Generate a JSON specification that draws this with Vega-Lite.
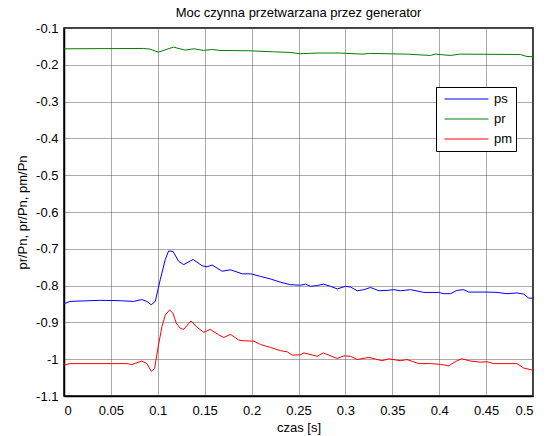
{
  "$schema": "https://vega.github.io/schema/vega-lite/v6.json",
  "width": 469,
  "height": 368,
  "autosize": {"type": "none"},
  "padding": {"left": 64, "top": 28, "right": 18, "bottom": 40},
  "background": "white",
  "title": {
    "text": "Moc czynna przetwarzana przez generator",
    "font": "Liberation Sans",
    "fontSize": 13,
    "fontWeight": "normal",
    "color": "black",
    "offset": 2
  },
  "data": {
    "values": [
      {"t": 0, "s": "ps", "v": -0.849}, {"t": 0.0064, "s": "ps", "v": -0.843}, {"t": 0.0385, "s": "ps", "v": -0.84},
      {"t": 0.0599, "s": "ps", "v": -0.841}, {"t": 0.0741, "s": "ps", "v": -0.843}, {"t": 0.083, "s": "ps", "v": -0.838},
      {"t": 0.0884, "s": "ps", "v": -0.843}, {"t": 0.093, "s": "ps", "v": -0.852}, {"t": 0.0973, "s": "ps", "v": -0.843},
      {"t": 0.1026, "s": "ps", "v": -0.784}, {"t": 0.108, "s": "ps", "v": -0.729}, {"t": 0.1115, "s": "ps", "v": -0.706},
      {"t": 0.1162, "s": "ps", "v": -0.707}, {"t": 0.1222, "s": "ps", "v": -0.734}, {"t": 0.1276, "s": "ps", "v": -0.743},
      {"t": 0.1376, "s": "ps", "v": -0.729}, {"t": 0.1472, "s": "ps", "v": -0.746}, {"t": 0.1525, "s": "ps", "v": -0.749},
      {"t": 0.1579, "s": "ps", "v": -0.744}, {"t": 0.1686, "s": "ps", "v": -0.761}, {"t": 0.1775, "s": "ps", "v": -0.757},
      {"t": 0.19, "s": "ps", "v": -0.768}, {"t": 0.199, "s": "ps", "v": -0.768}, {"t": 0.2096, "s": "ps", "v": -0.775},
      {"t": 0.2202, "s": "ps", "v": -0.782}, {"t": 0.231, "s": "ps", "v": -0.791}, {"t": 0.2415, "s": "ps", "v": -0.7975},
      {"t": 0.252, "s": "ps", "v": -0.799}, {"t": 0.2575, "s": "ps", "v": -0.796}, {"t": 0.2629, "s": "ps", "v": -0.802},
      {"t": 0.27, "s": "ps", "v": -0.8}, {"t": 0.2764, "s": "ps", "v": -0.796}, {"t": 0.2842, "s": "ps", "v": -0.802},
      {"t": 0.2913, "s": "ps", "v": -0.809}, {"t": 0.3001, "s": "ps", "v": -0.802}, {"t": 0.3055, "s": "ps", "v": -0.804},
      {"t": 0.3126, "s": "ps", "v": -0.814}, {"t": 0.3197, "s": "ps", "v": -0.811}, {"t": 0.3268, "s": "ps", "v": -0.805},
      {"t": 0.3357, "s": "ps", "v": -0.814}, {"t": 0.3445, "s": "ps", "v": -0.813}, {"t": 0.3516, "s": "ps", "v": -0.811},
      {"t": 0.3587, "s": "ps", "v": -0.814}, {"t": 0.3694, "s": "ps", "v": -0.811}, {"t": 0.3836, "s": "ps", "v": -0.8185},
      {"t": 0.3996, "s": "ps", "v": -0.8185}, {"t": 0.4049, "s": "ps", "v": -0.822}, {"t": 0.412, "s": "ps", "v": -0.822},
      {"t": 0.4191, "s": "ps", "v": -0.813}, {"t": 0.4262, "s": "ps", "v": -0.811}, {"t": 0.4315, "s": "ps", "v": -0.8176},
      {"t": 0.451, "s": "ps", "v": -0.8176}, {"t": 0.4617, "s": "ps", "v": -0.8185}, {"t": 0.4723, "s": "ps", "v": -0.822},
      {"t": 0.483, "s": "ps", "v": -0.82}, {"t": 0.4901, "s": "ps", "v": -0.823}, {"t": 0.4955, "s": "ps", "v": -0.834},
      {"t": 0.5, "s": "ps", "v": -0.834},

      {"t": 0, "s": "pr", "v": -0.1565}, {"t": 0.0846, "s": "pr", "v": -0.1556}, {"t": 0.0917, "s": "pr", "v": -0.1574},
      {"t": 0.1006, "s": "pr", "v": -0.1656}, {"t": 0.1166, "s": "pr", "v": -0.152}, {"t": 0.1291, "s": "pr", "v": -0.16},
      {"t": 0.1387, "s": "pr", "v": -0.1565}, {"t": 0.1486, "s": "pr", "v": -0.161}, {"t": 0.1575, "s": "pr", "v": -0.1583},
      {"t": 0.1664, "s": "pr", "v": -0.161}, {"t": 0.1984, "s": "pr", "v": -0.162}, {"t": 0.2233, "s": "pr", "v": -0.1647},
      {"t": 0.2411, "s": "pr", "v": -0.1665}, {"t": 0.2518, "s": "pr", "v": -0.17}, {"t": 0.2713, "s": "pr", "v": -0.168},
      {"t": 0.2945, "s": "pr", "v": -0.168}, {"t": 0.3176, "s": "pr", "v": -0.171}, {"t": 0.3265, "s": "pr", "v": -0.169},
      {"t": 0.3656, "s": "pr", "v": -0.171}, {"t": 0.3905, "s": "pr", "v": -0.1746}, {"t": 0.3958, "s": "pr", "v": -0.171},
      {"t": 0.4118, "s": "pr", "v": -0.1746}, {"t": 0.4225, "s": "pr", "v": -0.171}, {"t": 0.4865, "s": "pr", "v": -0.172},
      {"t": 0.4936, "s": "pr", "v": -0.1774}, {"t": 0.5, "s": "pr", "v": -0.178},

      {"t": 0, "s": "pm", "v": -1.016}, {"t": 0.0064, "s": "pm", "v": -1.012}, {"t": 0.067, "s": "pm", "v": -1.012},
      {"t": 0.0723, "s": "pm", "v": -1.0145}, {"t": 0.083, "s": "pm", "v": -1.005}, {"t": 0.0884, "s": "pm", "v": -1.012},
      {"t": 0.093, "s": "pm", "v": -1.033}, {"t": 0.0966, "s": "pm", "v": -1.025}, {"t": 0.0998, "s": "pm", "v": -0.975},
      {"t": 0.1044, "s": "pm", "v": -0.9115}, {"t": 0.108, "s": "pm", "v": -0.88}, {"t": 0.1126, "s": "pm", "v": -0.866},
      {"t": 0.1162, "s": "pm", "v": -0.875}, {"t": 0.1197, "s": "pm", "v": -0.902}, {"t": 0.124, "s": "pm", "v": -0.916},
      {"t": 0.1276, "s": "pm", "v": -0.919}, {"t": 0.1354, "s": "pm", "v": -0.896}, {"t": 0.1418, "s": "pm", "v": -0.913},
      {"t": 0.149, "s": "pm", "v": -0.927}, {"t": 0.156, "s": "pm", "v": -0.919}, {"t": 0.165, "s": "pm", "v": -0.934},
      {"t": 0.1703, "s": "pm", "v": -0.941}, {"t": 0.1775, "s": "pm", "v": -0.9325}, {"t": 0.1864, "s": "pm", "v": -0.948},
      {"t": 0.1918, "s": "pm", "v": -0.95}, {"t": 0.2025, "s": "pm", "v": -0.951}, {"t": 0.2096, "s": "pm", "v": -0.96},
      {"t": 0.2202, "s": "pm", "v": -0.968}, {"t": 0.231, "s": "pm", "v": -0.977}, {"t": 0.238, "s": "pm", "v": -0.98},
      {"t": 0.2433, "s": "pm", "v": -0.989}, {"t": 0.252, "s": "pm", "v": -0.988}, {"t": 0.2558, "s": "pm", "v": -0.983},
      {"t": 0.27, "s": "pm", "v": -0.992}, {"t": 0.2764, "s": "pm", "v": -0.983}, {"t": 0.2913, "s": "pm", "v": -0.998},
      {"t": 0.2984, "s": "pm", "v": -0.991}, {"t": 0.3055, "s": "pm", "v": -0.992}, {"t": 0.3126, "s": "pm", "v": -1.001},
      {"t": 0.325, "s": "pm", "v": -0.995}, {"t": 0.3392, "s": "pm", "v": -1.004}, {"t": 0.3463, "s": "pm", "v": -0.999},
      {"t": 0.3587, "s": "pm", "v": -1.004}, {"t": 0.3658, "s": "pm", "v": -1.001}, {"t": 0.3783, "s": "pm", "v": -1.012},
      {"t": 0.3907, "s": "pm", "v": -1.012}, {"t": 0.4013, "s": "pm", "v": -1.014}, {"t": 0.4102, "s": "pm", "v": -1.018},
      {"t": 0.4191, "s": "pm", "v": -1.004}, {"t": 0.4244, "s": "pm", "v": -0.999}, {"t": 0.4333, "s": "pm", "v": -1.005},
      {"t": 0.444, "s": "pm", "v": -1.008}, {"t": 0.451, "s": "pm", "v": -1.007}, {"t": 0.4582, "s": "pm", "v": -1.012},
      {"t": 0.483, "s": "pm", "v": -1.012}, {"t": 0.4901, "s": "pm", "v": -1.024}, {"t": 0.5, "s": "pm", "v": -1.03}
    ]
  },
  "mark": {"type": "line", "strokeWidth": 1, "interpolate": "linear"},
  "encoding": {
    "x": {
      "field": "t",
      "type": "quantitative",
      "scale": {"domain": [0, 0.5], "nice": false},
      "axis": {
        "title": "czas [s]",
        "values": [0, 0.05, 0.1, 0.15, 0.2, 0.25, 0.3, 0.35, 0.4, 0.45, 0.5],
        "labelExpr": "'' + datum.value",
        "labelPadding": 8,
        "titlePadding": 4
      }
    },
    "y": {
      "field": "v",
      "type": "quantitative",
      "scale": {"domain": [-1.1, -0.1], "nice": false, "zero": false},
      "axis": {
        "title": "pr/Pn, pr/Pn, pm/Pn",
        "values": [-1.1, -1, -0.9, -0.8, -0.7, -0.6, -0.5, -0.4, -0.3, -0.2, -0.1],
        "labelExpr": "'' + datum.value",
        "labelPadding": 6,
        "titlePadding": 6
      }
    },
    "color": {
      "field": "s",
      "type": "nominal",
      "scale": {"domain": ["ps", "pr", "pm"], "range": ["#0000ff", "#008000", "#ff0000"]},
      "legend": {"title": null}
    }
  },
  "config": {
    "view": {"stroke": "black", "strokeWidth": 1.5},
    "axis": {
      "labelFont": "Liberation Sans",
      "labelFontSize": 13,
      "labelColor": "black",
      "titleFont": "Liberation Sans",
      "titleFontSize": 13,
      "titleFontWeight": "normal",
      "titleColor": "black",
      "domainColor": "black",
      "domainWidth": 1.5,
      "ticks": false,
      "gridColor": "#555555",
      "gridDash": [1, 1],
      "gridOpacity": 1
    },
    "legend": {
      "orient": "none",
      "legendX": 372,
      "legendY": 59,
      "strokeColor": "black",
      "fillColor": "white",
      "padding": 3,
      "symbolType": "stroke",
      "symbolSize": 1936,
      "symbolStrokeWidth": 1,
      "clipHeight": 18,
      "rowPadding": 2,
      "symbolOffset": 5,
      "labelOffset": 5,
      "labelFont": "Liberation Sans",
      "labelFontSize": 13,
      "labelColor": "black"
    }
  }
}
